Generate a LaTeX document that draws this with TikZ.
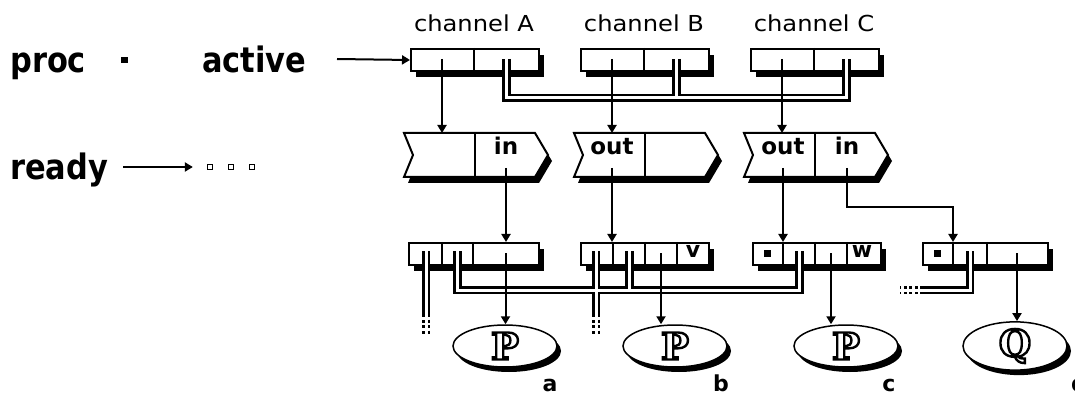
\documentclass[tikz,border=0pt]{standalone}
\usepackage{fontspec}
\usetikzlibrary{arrows.meta,shadows,shapes.geometric}

\newfontfamily\headfont{DejaVu Sans}[FakeStretch=0.87]
\newfontfamily\chanfont{DejaVu Sans}[FakeStretch=1.1]
\newfontfamily\fieldfont{DejaVu Sans}
\newfontfamily\procfont{DejaVu Serif}
% letters drawn in outline (stroke-only text rendering)
\newcommand\hollowletter[1]{\special{pdf:literal direct 2.4 w 1 Tr}#1\special{pdf:literal direct 0 Tr}}

\tikzset{
  wire/.style={line width=2pt},
  ptr/.style={line width=2pt,-{Triangle[length=8pt,width=9pt]}},
  record/.style={draw,line width=2pt,fill=white,inner sep=0pt,
    minimum height=22pt,anchor=north west,
    general shadow={fill=black,rounded corners=2pt,shadow xshift=5pt,shadow yshift=-6pt}},
  queuebody/.style={inner sep=0pt,minimum width=131pt,minimum height=44pt,anchor=north west},
  queuepic/.pic={
    \fill[black] (4,6) -- (135,6) -- (148,28) -- (135,50) -- (4,50) -- (13,28) -- cycle;
    \filldraw[fill=white,line width=2pt,line join=miter]
      (0,0) -- (131,0) -- (144,22) -- (131,44) -- (0,44) -- (9,22) -- cycle;
    \draw[line width=2pt] (71,0) -- (71,44);
  },
  proc/.style={draw,ellipse,line width=1.5pt,fill=white,inner sep=0pt,
    minimum width=104pt,minimum height=42pt,
    general shadow={fill=black,shadow xshift=4pt,shadow yshift=-5pt},
    font=\procfont\bfseries\fontsize{37}{37}\selectfont},
  biglabel/.style={anchor=base west,inner sep=0pt,font=\headfont\bfseries\fontsize{35}{40}\selectfont},
  chanlabel/.style={anchor=base,inner sep=0pt,font=\chanfont\fontsize{22}{26}\selectfont},
  fieldlabel/.style={anchor=base,inner sep=0pt,font=\fieldfont\bfseries\fontsize{23}{26}\selectfont},
  tag/.style={anchor=base,inner sep=0pt,font=\fieldfont\bfseries\fontsize{22}{26}\selectfont},
  nilbox/.style={fill=black,inner sep=0pt,minimum width=7pt,minimum height=7pt},
  emptybox/.style={draw,line width=1.3pt,inner sep=0pt,minimum size=5pt},
  linkouter/.style={line width=8.5pt,line cap=butt,line join=miter},
  linkinner/.style={white,line width=3pt,line cap=butt,line join=miter},
  fading link/.style={dash pattern=on 3pt off 2.5pt},
}

% double-ruled pointer links, drawn once black and once white
\newcommand\drawlinks[1]{%
  \draw[#1] (chA-lnk) -- (chA-lnk |- topbus) -- (chC-lnk |- topbus) -- (chC-lnk);
  \draw[#1] (chB-lnk) -- (chB-lnk |- topbus);
  \draw[#1] (rA-l2) -- (rA-l2 |- lowbus) -- (rC-l2 |- lowbus) -- (rC-l2);
  \draw[#1] (rB-l2) -- (rB-l2 |- lowbus);
  \draw[#1] (rA-l1) -- (rA-l1 |- fade);
  \draw[#1] (rB-l1) -- (rB-l1 |- fade);
  \draw[#1,fading link] (rA-l1 |- fade) -- (rA-l1 |- fadeend);
  \draw[#1,fading link] (rB-l1 |- fade) -- (rB-l1 |- fadeend);
  \draw[#1] (rD-l2) -- (rD-l2 |- lowbus) -- (rD-tail);
  \draw[#1,fading link] (rD-tail) -- (rD-tailend);
}

\begin{document}
\begin{tikzpicture}[x=1pt,y=-1pt]
\useasboundingbox (0,0) rectangle (1075,395);

% left-hand labels
\node[biglabel] (procTxt) at (10,73) {proc};
\node[nilbox,minimum height=6pt] (procDot) at (124.5,60) {};
\node[biglabel] (activeTxt) at (202,73) {active};
\node[biglabel] (readyTxt) at (10,180) {ready};
\node[emptybox] (rq1) at (210,167) {};
\node[emptybox] (rq2) at (231,167) {};
\node[emptybox] (rq3) at (252,167) {};
\coordinate (activeTail) at (337,59);
\coordinate (readyTail) at (123,167);

% channel records
\foreach \n/\x/\t in {chA/410/A, chB/580/B, chC/750/C} {
  \node[record,minimum width=128pt] (\n) at (\x,48) {};
  \draw[wire] (\x+64,48) -- (\x+64,70);
  \node[chanlabel] (\n-name) at (\x+64,32) {channel \t};
  \coordinate (\n-ptr) at (\x+32,59);
  \coordinate (\n-lnk) at (\x+96.5,59);
}
\coordinate (topbus) at (0,98);

% ready-queue cells
\foreach \n/\x in {qA/404, qB/574, qC/744} {
  \pic at (\x,133) {queuepic};
  \node[queuebody] (\n) at (\x,133) {};
}
\node[fieldlabel] (qA-inTxt) at (506,155) {in};
\node[fieldlabel] (qB-outTxt) at (612,155) {out};
\node[fieldlabel] (qC-outTxt) at (783,155) {out};
\node[fieldlabel] (qC-inTxt) at (847,155) {in};
\coordinate (qA-in) at (506,168);
\coordinate (qB-out) at (612,168);
\coordinate (qC-out) at (783,168);
\coordinate (qC-in) at (847,168);

% process records
\node[record,minimum width=130pt] (rA) at (408,242) {};
\draw[wire] (442,242) -- (442,264) (473,242) -- (473,264);
\node[record,minimum width=128pt] (rB) at (580,242) {};
\draw[wire] (613,242) -- (613,264) (645,242) -- (645,264) (677,242) -- (677,264);
\node[record,minimum width=128pt] (rC) at (752,242) {};
\draw[wire] (783,242) -- (783,264) (815,242) -- (815,264) (847,242) -- (847,264);
\node[record,minimum width=125pt] (rD) at (922,242) {};
\draw[wire] (953,242) -- (953,264) (987,242) -- (987,264);

\node[nilbox] (rC-nil) at (767.5,253) {};
\node[nilbox] (rD-nil) at (937.5,253) {};
\node[tag] (rB-v) at (693,258) {v};
\node[tag] (rC-w) at (862,258) {w};

\coordinate (rA-l1) at (426,251);
\coordinate (rA-l2) at (457.5,251);
\coordinate (rA-p) at (505.5,253);
\coordinate (rB-l1) at (596,251);
\coordinate (rB-l2) at (629.5,251);
\coordinate (rB-p) at (661,253);
\coordinate (rC-l2) at (799.5,251);
\coordinate (rC-p) at (831,253);
\coordinate (rD-l2) at (970,251);
\coordinate (rD-p) at (1017,253);
\coordinate (lowbus) at (0,290);
\coordinate (fade) at (0,314);
\coordinate (fadeend) at (0,334);
\coordinate (rD-tail) at (923,290);
\coordinate (rD-tailend) at (900,290);

% process bodies
\node[proc] (pa) at (505,346) {\hollowletter{P}};
\node[proc] (pb) at (675,346) {\hollowletter{P}};
\node[proc] (pc) at (846,346) {\hollowletter{P}};
\node[proc] (pd) at (1015,346) {\hollowletter{Q}};
\node[tag] (pa-name) at (550,391) {a};
\node[tag] (pb-name) at (721,391) {b};
\node[tag] (pc-name) at (889,391) {c};
\node[tag,anchor=base west] (pd-name) at (1071,391) {d};

% double links
\drawlinks{linkouter}
\drawlinks{linkinner}

% single pointers
\draw[ptr] (activeTail) -- (chA.west);
\draw[ptr,shorten >=14pt] (readyTail) -- (rq1.west);
\draw[ptr] (chA-ptr) -- (chA-ptr |- qA.north);
\draw[ptr] (chB-ptr) -- (chB-ptr |- qB.north);
\draw[ptr] (chC-ptr) -- (chC-ptr |- qC.north);
\draw[ptr] (qA-in) -- (qA-in |- rA.north);
\draw[ptr] (qB-out) -- (qB-out |- rB.north);
\draw[ptr] (qC-out) -- (qC-out |- rC.north);
\draw[ptr] (qC-in) -- ++(0,39) -| ([xshift=31pt]rD.north west);
\draw[ptr] (rA-p) -- (rA-p |- pa.north);
\draw[ptr] (rB-p) -- (rB-p |- pb.north);
\draw[ptr] (rC-p) -- (rC-p |- pc.north);
\draw[ptr] (rD-p) -- (rD-p |- pd.north);
\end{tikzpicture}
\end{document}
